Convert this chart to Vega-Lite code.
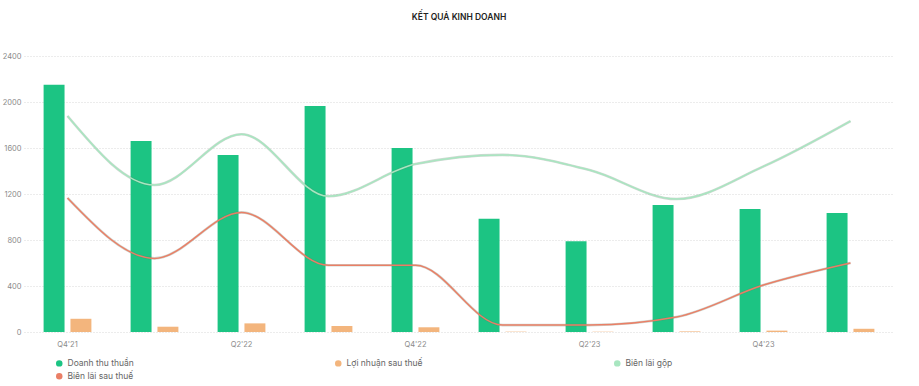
{
  "$schema": "https://vega.github.io/schema/vega-lite/v6.json",
  "autosize": {"type": "none"},
  "width": 870,
  "height": 276,
  "padding": {"left": 24, "top": 56, "right": 25, "bottom": 54},
  "background": "white",
  "config": {
    "view": {"stroke": null},
    "font": "Inter",
    "axis": {"labelFont": "Inter", "labelFontSize": 7.5, "labelColor": "#8a8a8a", "domain": false, "ticks": false},
    "legend": {"labelFont": "Inter"}
  },
  "title": {
    "text": "KẾT QUẢ KINH DOANH",
    "fontSize": 8.5,
    "fontWeight": 600,
    "color": "#222",
    "anchor": "middle",
    "offset": 31,
    "font": "Inter"
  },
  "data": {
    "values": [
      {"q": "Q4'21", "revenue": 2150, "profit": 115, "gm": 0.0939, "nm": 0.0583},
      {"q": "Q1'22", "revenue": 1660, "profit": 46, "gm": 0.0639, "nm": 0.032},
      {"q": "Q2'22", "revenue": 1540, "profit": 75, "gm": 0.086, "nm": 0.052},
      {"q": "Q3'22", "revenue": 1965, "profit": 52, "gm": 0.059, "nm": 0.029},
      {"q": "Q4'22", "revenue": 1600, "profit": 41, "gm": 0.073, "nm": 0.029},
      {"q": "Q1'23", "revenue": 985, "profit": 3, "gm": 0.077, "nm": 0.003},
      {"q": "Q2'23", "revenue": 790, "profit": 2.5, "gm": 0.0704, "nm": 0.003},
      {"q": "Q3'23", "revenue": 1105, "profit": 5, "gm": 0.0578, "nm": 0.0065},
      {"q": "Q4'23", "revenue": 1070, "profit": 12, "gm": 0.072, "nm": 0.0204},
      {"q": "Q1'24", "revenue": 1035, "profit": 28, "gm": 0.0917, "nm": 0.030}
    ]
  },
  "layer": [
    {
      "transform": [{"fold": ["revenue", "profit"], "as": ["key", "value"]}],
      "mark": {"type": "bar"},
      "encoding": {
        "x": {
          "field": "q", "type": "ordinal", "sort": null,
          "scale": {"paddingInner": 0, "paddingOuter": 0},
          "axis": {
            "title": null, "labelAngle": 0, "grid": false, "labelPadding": 8,
            "values": ["Q4'21", "Q2'22", "Q4'22", "Q2'23", "Q4'23"]
          }
        },
        "xOffset": {
          "field": "key", "type": "nominal", "sort": ["revenue", "profit"],
          "scale": {"paddingInner": 0.22, "paddingOuter": 0.73}
        },
        "y": {
          "field": "value", "type": "quantitative",
          "scale": {"domain": [0, 2400]},
          "axis": {
            "title": null, "values": [0, 400, 800, 1200, 1600, 2000, 2400], "format": "d",
            "gridColor": "#d9d9d9", "gridDash": [1, 2], "labelPadding": 3
          }
        },
        "color": {
          "field": "key", "type": "nominal",
          "scale": {
            "domain": ["revenue", "profit", "gm", "nm"],
            "range": ["#1cc483", "#f3b57d", "#a8e6c0", "#ea7f66"]
          },
          "legend": {
            "title": null,
            "orient": "none",
            "legendX": 31,
            "legendY": 303,
            "direction": "horizontal",
            "columns": 3,
            "gridAlign": "all",
            "columnPadding": 190,
            "rowPadding": 4,
            "symbolType": "circle",
            "symbolSize": 42,
            "symbolStrokeWidth": 0,
            "labelFontSize": 8.5,
            "labelColor": "#666",
            "labelExpr": "datum.value == 'revenue' ? 'Doanh thu thuần' : datum.value == 'profit' ? 'Lợi nhuận sau thuế' : datum.value == 'gm' ? 'Biên lãi gộp' : 'Biên lãi sau thuế'"
          }
        }
      }
    },
    {
      "transform": [{"fold": ["gm", "nm"], "as": ["key", "value"]}],
      "layer": [
        {
          "mark": {"type": "line", "interpolate": "monotone", "strokeWidth": 2.6, "opacity": 0.3, "color": "#5f7d6b"},
          "encoding": {
            "x": {"field": "q", "type": "ordinal", "sort": null},
            "y": {"field": "value", "type": "quantitative", "scale": {"domain": [0, 0.12]}, "axis": null},
            "detail": {"field": "key"}
          }
        },
        {
          "mark": {"type": "line", "interpolate": "monotone", "strokeWidth": 1.5},
          "encoding": {
            "x": {"field": "q", "type": "ordinal", "sort": null},
            "y": {
              "field": "value", "type": "quantitative",
              "scale": {"domain": [0, 0.12]},
              "axis": {
                "title": null, "orient": "right", "format": ".0%",
                "values": [0, 0.02, 0.04, 0.06, 0.08, 0.1, 0.12],
                "grid": false, "labelPadding": 4
              }
            },
            "color": {"field": "key", "type": "nominal", "legend": null}
          }
        }
      ]
    }
  ],
  "resolve": {"scale": {"y": "independent"}}
}
